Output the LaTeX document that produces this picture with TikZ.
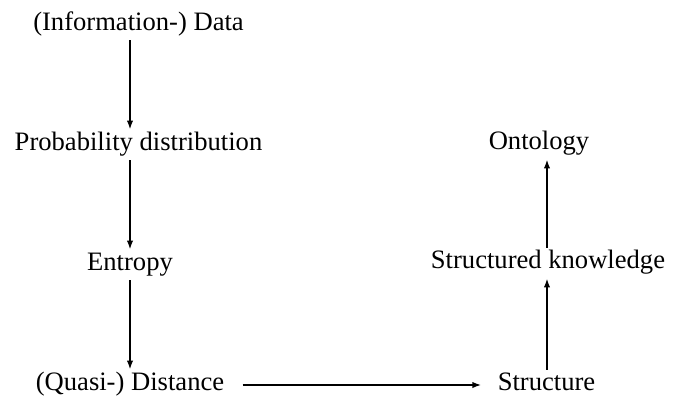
\documentclass[tikz,border=0pt]{standalone}
\usepackage{fontspec}
\setmainfont{Liberation Serif}
\usepackage{tikz}
\usetikzlibrary{arrows.meta}

\begin{document}
\begin{tikzpicture}[x=0.5pt,y=-0.5pt]
			\tikzstyle{every node}+=[inner sep=1pt, text height=9pt, text depth=4pt, font=\fontsize{13.3}{15}\selectfont, anchor=base]
			\tikzstyle{flow}=[line width=0.95pt, -{Latex[length=4.5pt,width=3.2pt]}]
			\useasboundingbox (0,0) rectangle (691,398);
			% left column
			\coordinate (lcol) at (130,0);
			\node (data) at (138.5,30) {(Information-) Data};
			\node (prob) at (138.5,150) {Probability distribution};
			\node (ent) at (130,270) {Entropy};
			\node (dist) at (130,390) {(Quasi-) Distance};
			% right column
			\coordinate (rcol) at (547,0);
			\node (struct) at (546.5,390) {Structure};
			\node (know) at (548,268) {Structured knowledge};
			\node (onto) at (539,149) {Ontology};
			% arrows
			\draw [flow] (data.south -| lcol) -- (prob.north -| lcol);
			\draw [flow] (prob.south -| lcol) -- (ent.north -| lcol);
			\draw [flow] (ent.south -| lcol) -- (dist.north -| lcol);
			\draw [flow, shorten <=8pt, shorten >=7pt] (dist.east) -- (struct.west);
			\draw [flow] (struct.north -| rcol) -- (know.south -| rcol);
			\draw [flow] (know.north -| rcol) -- (onto.south -| rcol);
\end{tikzpicture}
\end{document}
